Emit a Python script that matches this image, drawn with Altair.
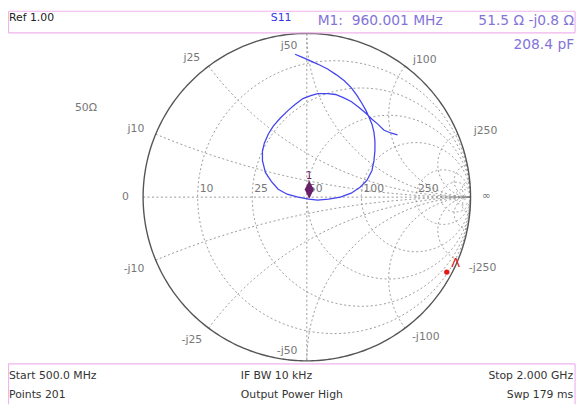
import numpy as np
import pandas as pd
import altair as alt

Z0 = 50.0

# ---- grid values (ohms) ----
resistance_grid = [10, 25, 50, 100, 250, 500, 1000]
reactance_grid = [10, 25, 50, 100, 250, 500, 1000]
axis_label_values = [10, 25, 50, 100, 250]
reactance_label_values = [10, 25, 50, 100, 250, -10, -25, -50, -100, -250]

# ---- S11 trace, reflection coefficient ----
s11_re = [-0.072, -0.030, 0.012, 0.066, 0.127, 0.181, 0.229, 0.271, 0.307, 0.337,
          0.361, 0.380, 0.398, 0.410, 0.416, 0.416, 0.410, 0.398, 0.367, 0.325,
          0.271, 0.205, 0.133, 0.066, 0.012, -0.054, -0.120, -0.175, -0.217, -0.253,
          -0.271, -0.271, -0.259, -0.235, -0.205, -0.163, -0.114, -0.072, -0.024, 0.024,
          0.066, 0.127, 0.175, 0.223, 0.271, 0.319, 0.361, 0.398, 0.434, 0.470,
          0.512, 0.554]
s11_im = [0.873, 0.855, 0.837, 0.813, 0.783, 0.747, 0.711, 0.669, 0.620, 0.572,
          0.530, 0.488, 0.446, 0.398, 0.343, 0.283, 0.223, 0.163, 0.102, 0.060,
          0.024, 0.000, -0.012, -0.018, -0.012, 0.000, 0.018, 0.048, 0.096, 0.151,
          0.223, 0.283, 0.331, 0.386, 0.434, 0.482, 0.530, 0.566, 0.602, 0.620,
          0.633, 0.633, 0.627, 0.608, 0.584, 0.548, 0.512, 0.476, 0.446, 0.410,
          0.392, 0.380]

# ---- marker M1 ----
m1_label = "1"
m1_r_ohm = 51.5
m1_x_ohm = -0.8
# ---- red reference marker ----
ref_re = [0.855]
ref_im = [-0.458]

# ---- layout ----
W, H = 580, 399
PX = 166.0            # pixels per unit of reflection coefficient
CX, CY = 303.0, 189.0  # chart centre in plot coordinates
xs = alt.Scale(domain=[-CX / PX, (W - CX) / PX], zero=False, nice=False)
ys = alt.Scale(domain=[-(H - CY) / PX, CY / PX], zero=False, nice=False)
FONT = "DejaVu Sans"
GRID = "#8c8c8c"
LABEL = "#777777"


def gamma(z):
    return (z - 1) / (z + 1)


def X(f="x"):
    return alt.X(f"{f}:Q", scale=xs, axis=None)


def Y(f="y"):
    return alt.Y(f"{f}:Q", scale=ys, axis=None)


# grid lines
rows = []
t = np.linspace(0, 2 * np.pi, 361)
for r in resistance_grid:
    rn = r / Z0
    c, R = rn / (1 + rn), 1 / (1 + rn)
    for i, tt in enumerate(t):
        rows.append((f"r{r}", i, c + R * np.cos(tt), R * np.sin(tt)))
rs = np.concatenate([np.linspace(0, 1, 80, endpoint=False), np.geomspace(1, 1e5, 220)])
for xv in reactance_grid:
    for sgn in (1, -1):
        g = gamma(rs + 1j * sgn * xv / Z0)
        for i, gg in enumerate(g):
            rows.append((f"x{sgn*xv}", i, gg.real, gg.imag))
rows += [("h", 0, -1.0, 0.0), ("h", 1, 1.0, 0.0), ("v", 0, 0.0, 1.0), ("v", 1, 0.0, -1.0)]
grid_df = pd.DataFrame(rows, columns=["g", "i", "x", "y"])

grid = alt.Chart(grid_df).mark_line(color=GRID, strokeWidth=0.9, strokeDash=[2, 2.5]).encode(
    x=X(), y=Y(), detail="g:N", order="i:Q")

outer_df = pd.DataFrame({"i": range(361), "x": np.cos(t), "y": np.sin(t)})
outer = alt.Chart(outer_df).mark_line(color="#555555", strokeWidth=1.4).encode(
    x=X(), y=Y(), order="i:Q")

# axis labels on the real axis
al = [gamma(v / Z0) for v in axis_label_values]
axis_lab_df = pd.DataFrame({"x": al, "y": [0.0] * len(al), "t": [str(v) for v in axis_label_values]})
axis_labels = alt.Chart(axis_lab_df).mark_text(
    align="left", baseline="alphabetic", dx=2, dy=-5, font=FONT, fontSize=11, color=LABEL
).encode(x=X(), y=Y(), text="t:N")

# outer reactance labels
offsets = {10: (-20, -5), 25: (-17, -8), 50: (-18, 13), 100: (20, -6), 250: (28, -3),
           -10: (-22, 9), -25: (-17, 12), -50: (-20, -10), -100: (21, 9), -250: (25, 8)}
lx, ly, lt = [], [], []
for v in reactance_label_values:
    g = gamma(1j * v / Z0)
    dx, dy = offsets[v]
    lx.append(g.real + dx / PX)
    ly.append(g.imag - dy / PX)
    lt.append(("j" if v > 0 else "-j") + str(abs(v)))
lx += [-1 - 18 / PX, 1 + 16 / PX]
ly += [0.0, 1 / PX]
lt += ["0", "\u221e"]
outer_lab_df = pd.DataFrame({"x": lx, "y": ly, "t": lt})
outer_labels = alt.Chart(outer_lab_df).mark_text(
    align="center", baseline="middle", font=FONT, fontSize=11, color=LABEL
).encode(x=X(), y=Y(), text="t:N")

# trace
trace_df = pd.DataFrame({"i": range(len(s11_re)), "x": s11_re, "y": s11_im})
trace = alt.Chart(trace_df).mark_line(color="#4444ee", strokeWidth=1.3).encode(
    x=X(), y=Y(), order="i:Q")

# M1 marker
gm = gamma(complex(m1_r_ohm, m1_x_ohm) / Z0)
m1_df = pd.DataFrame({"x": [gm.real], "y": [gm.imag], "t": [m1_label]})
diamond = alt.Chart(m1_df).mark_point(
    shape="M0,-1L0.5,0L0,1L-0.5,0Z", filled=True, size=340, opacity=1,
    color="#6a1f6a", yOffset=-9
).encode(x=X(), y=Y())
m1_text = alt.Chart(m1_df).mark_text(
    dy=-23, font=FONT, fontSize=10, color="#6a1f6a"
).encode(x=X(), y=Y(), text="t:N")

# red reference marker
ref_df = pd.DataFrame({"x": ref_re, "y": ref_im, "t": ["\u039b"]})
ref_dot = alt.Chart(ref_df).mark_point(shape="circle", filled=True, size=30, opacity=1,
                                       color="#e41a1a").encode(x=X(), y=Y())
ref_lambda = alt.Chart(ref_df).mark_text(dx=9, dy=-9, font=FONT, fontSize=13,
                                         color="#e41a1a").encode(x=X(), y=Y(), text="t:N")


def txt(s, x, y, color="#333333", size=11, align="left", weight="normal"):
    return alt.Chart(pd.DataFrame({"t": [s]})).mark_text(
        align=align, baseline="middle", font=FONT, fontSize=size, color=color, fontWeight=weight
    ).encode(x=alt.value(x), y=alt.value(y), text="t:N")


def line(x1, y1, x2, y2, color="#f0b4ee"):
    return alt.Chart(pd.DataFrame({"a": [0]})).mark_rule(color=color, strokeWidth=1.2).encode(
        x=alt.value(x1), y=alt.value(y1), x2=alt.value(x2), y2=alt.value(y2))


OFF = 8
purple = "#8474d8"
texts = [
    txt("Ref 1.00", 9 - OFF, 15 - OFF, "#222222"),
    txt("S11", 285 - OFF, 15 - OFF, "#3434e6", align="center"),
    txt("M1:\u00a0 960.001 MHz", 322 - OFF, 18 - OFF, purple, size=14),
    txt("51.5 \u03a9 -j0.8 \u03a9", 582 - OFF, 18 - OFF, purple, size=14, align="right"),
    txt("208.4 pF", 582 - OFF, 43 - OFF, purple, size=14, align="right"),
    txt("50\u03a9", 87 - OFF, 107 - OFF, LABEL, align="center"),
    txt("Start 500.0 MHz", 9 - OFF, 378 - OFF),
    txt("Points 201", 9 - OFF, 398 - OFF),
    txt("IF BW 10 kHz", 244 - OFF, 378 - OFF),
    txt("Output Power High", 244 - OFF, 398 - OFF),
    txt("Stop 2.000 GHz", 581 - OFF, 378 - OFF, align="right"),
    txt("Swp 179 ms", 581 - OFF, 398 - OFF, align="right"),
]
boxes = [
    line(0.5, 0.5, 575, 0.5), line(0.5, 0.5, 0.5, 22.5), line(575, 0.5, 575, 22.5),
    line(0.5, 22.5, 575, 22.5),
    line(0.5, 358, 575, 358), line(0.5, 358, 0.5, 399), line(575, 358, 575, 399),
]

chart = alt.layer(
    grid, outer, axis_labels, outer_labels, trace, diamond, m1_text, ref_dot, ref_lambda,
    *boxes, *texts
).properties(
    width=W, height=H, autosize=alt.AutoSizeParams(type="none"), padding=0
).configure_view(stroke=None)

chart.save("out.html", embed_options={"renderer": "svg", "actions": False})
